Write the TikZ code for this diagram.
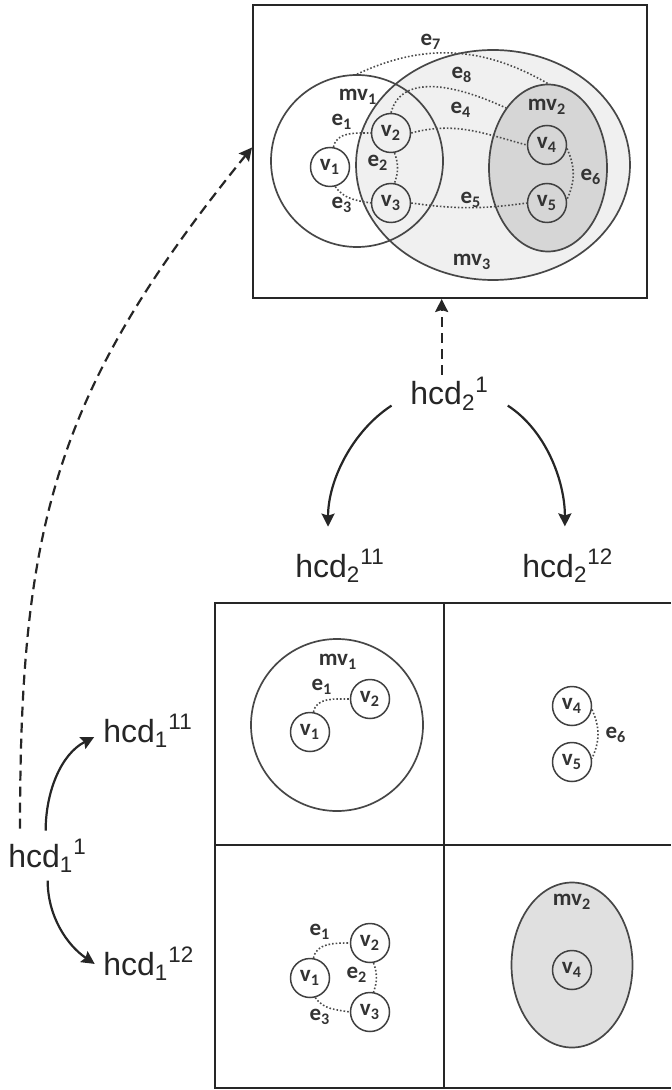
\documentclass[tikz,border=0pt]{standalone}
\usepackage{fontspec}
\setmainfont{Liberation Sans}
\newfontfamily\carlito{Carlito}
\usetikzlibrary{arrows.meta,shapes.geometric}

\newcommand{\hcd}[2]{hcd\textsubscript{#1}\textsuperscript{#2}}
\newcommand{\lbl}[2]{#1\textsubscript{#2}}

\begin{document}
\begin{tikzpicture}[x=0.5pt,y=0.5pt,
    vtx/.style={circle,draw=black!75,line width=0.75pt,minimum size=19.5pt,inner sep=0pt,
      font=\carlito\bfseries\fontsize{11.5}{13}\selectfont,text=black!80},
    metavtx/.style={draw=black!72,line width=0.85pt,inner sep=0pt},
    lab/.style={inner sep=0pt,font=\carlito\bfseries\fontsize{11.5}{13}\selectfont,text=black!80},
    link/.style={densely dotted,draw=black!70,line width=0.8pt},
    hcdlab/.style={anchor=base west,inner sep=0pt,font=\fontsize{16}{19}\selectfont,text=black!85},
    hcdarrow/.style={line width=1.1pt,draw=black!85,-{Stealth[length=6.5pt,width=6.5pt,inset=1pt]}},
    hcdjump/.style={hcdarrow,dash pattern=on 5pt off 3pt},
    panel/.style={draw=black!85,line width=1pt},
  ]
  \useasboundingbox (0,0) rectangle (671,-1090);

  % merged graph in the top box
  \node[panel,minimum width=197pt,minimum height=146.5pt] (merged) at (450,-151.5) {};
  \node[metavtx,ellipse,fill=black!6,minimum width=137pt,minimum height=115pt] (mv3) at (493,-165) {};
  \node[metavtx,ellipse,fill=black!16,minimum width=59pt,minimum height=83.5pt] (mv2) at (548,-168) {};
  \node[metavtx,circle,minimum size=86pt] (mv1) at (357,-161) {};

  \node[vtx] (t1) at (330,-167) {\lbl{v}{1}};
  \node[vtx] (t2) at (391,-133) {\lbl{v}{2}};
  \node[vtx] (t3) at (391,-203) {\lbl{v}{3}};
  \node[vtx] (t4) at (547,-145) {\lbl{v}{4}};
  \node[vtx] (t5) at (547,-203) {\lbl{v}{5}};

  \draw[link] (t1.80) to[out=80,in=180] (t2.west);
  \draw[link] (t2.-80) to[bend left=20] (t3.80);
  \draw[link] (t1.-75) to[out=-55,in=170] (t3.west);
  \draw[link] (t2.east) to[out=15,in=165] (t4.west);
  \draw[link] (t3.east) to[bend right=8] (t5.west);
  \draw[link] (t4.-10) to[bend left=25] (t5.10);
  \draw[link] (t2.north) to[out=75,in=155] (mv2.125);
  \draw[link] (mv1.north) to[out=25,in=150] (mv2.north);

  \node[lab] (tmv1) at (358,-97) {\lbl{mv}{1}};
  \node[lab] (tmv2) at (547,-107) {\lbl{mv}{2}};
  \node[lab] (tmv3) at (472,-262) {\lbl{mv}{3}};
  \node[lab] (te1) at (342,-122) {\lbl{e}{1}};
  \node[lab] (te2) at (378,-163) {\lbl{e}{2}};
  \node[lab] (te3) at (342,-205) {\lbl{e}{3}};
  \node[lab] (te4) at (461,-110) {\lbl{e}{4}};
  \node[lab] (te5) at (471,-200) {\lbl{e}{5}};
  \node[lab] (te6) at (591,-177) {\lbl{e}{6}};
  \node[lab] (te7) at (431,-42) {\lbl{e}{7}};
  \node[lab] (te8) at (462,-75) {\lbl{e}{8}};

  % decomposition grid
  \draw[panel] (671,-603) -- (215,-603) -- (215,-1088) -- (671,-1088);
  \draw[panel] (444,-603) -- (444,-1088);
  \draw[panel] (215,-845) -- (671,-845);

  % upper left
  \node[metavtx,circle,minimum size=86pt] (mu1) at (337,-725) {};
  \node[vtx] (p1) at (310,-732) {\lbl{v}{1}};
  \node[vtx] (p2) at (370,-699) {\lbl{v}{2}};
  \draw[link] (p1.80) to[out=80,in=180] (p2.west);
  \node[lab] (pmv1) at (338,-662) {\lbl{mv}{1}};
  \node[lab] (pe1) at (322,-687) {\lbl{e}{1}};

  % upper right
  \node[vtx] (q4) at (572,-706) {\lbl{v}{4}};
  \node[vtx] (q5) at (572,-762) {\lbl{v}{5}};
  \draw[link] (q4.-10) to[bend left=25] (q5.10);
  \node[lab] (qe6) at (616,-735) {\lbl{e}{6}};

  % lower left
  \node[vtx] (r1) at (310,-978) {\lbl{v}{1}};
  \node[vtx] (r2) at (370,-943) {\lbl{v}{2}};
  \node[vtx] (r3) at (370,-1012) {\lbl{v}{3}};
  \draw[link] (r1.80) to[out=80,in=180] (r2.west);
  \draw[link] (r2.-80) to[bend left=20] (r3.80);
  \draw[link] (r1.-75) to[out=-55,in=170] (r3.west);
  \node[lab] (re1) at (320,-932) {\lbl{e}{1}};
  \node[lab] (re2) at (357,-975) {\lbl{e}{2}};
  \node[lab] (re3) at (320,-1017) {\lbl{e}{3}};

  % lower right
  \node[metavtx,ellipse,fill=black!12,minimum width=60.5pt,minimum height=82.5pt] (mu2) at (572,-965) {};
  \node[vtx] (s4) at (572,-970) {\lbl{v}{4}};
  \node[lab] (smv2) at (572,-902) {\lbl{mv}{2}};

  % hierarchy labels and arrows
  \node[hcdlab] (hcd21) at (410,-405) {\hcd{2}{1}};
  \node[hcdlab] (hcd211) at (295,-577) {\hcd{2}{11}};
  \node[hcdlab] (hcd212) at (522,-577) {\hcd{2}{12}};
  \node[hcdlab] (hcd11) at (8,-867) {\hcd{1}{1}};
  \node[hcdlab] (hcd111) at (103,-742) {\hcd{1}{11}};
  \node[hcdlab] (hcd112) at (103,-975) {\hcd{1}{12}};

  \draw[hcdarrow,shorten <=11pt,shorten >=11pt] (hcd21.west) to[out=213,in=90] ([xshift=-6pt]hcd211.north);
  \draw[hcdarrow,shorten <=11pt,shorten >=11pt] (hcd21.east) to[out=-33,in=90] ([xshift=-1.5pt]hcd212.north);
  \draw[hcdjump,shorten <=1pt] ([xshift=-4pt]hcd21.north) -- ([xshift=-4pt]hcd21.north |- merged.south);
  \draw[hcdarrow,shorten <=4pt,shorten >=5pt] ([xshift=-1pt]hcd11.north) to[out=90,in=207] ([yshift=-1pt]hcd111.west);
  \draw[hcdarrow,shorten <=4pt,shorten >=5pt] (hcd11.south) to[out=-90,in=146] ([yshift=-3pt]hcd112.west);
  \draw[hcdjump,shorten <=5pt] ([xshift=6pt]hcd11.north west) to[out=90,in=231,looseness=1.1] ([yshift=2pt]merged.west);
\end{tikzpicture}
\end{document}
